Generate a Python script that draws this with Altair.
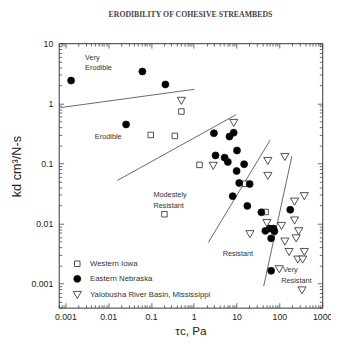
import altair as alt
import pandas as pd

# ---------------- data ----------------
series_names = ["Western Iowa", "Eastern Nebraska", "Yalobusha River Basin, Mississippi"]

iowa_tau = [0.513, 0.0987, 0.361, 1.36, 0.206, 15.8, 47.6]
iowa_kd = [0.731, 0.298, 0.287, 0.0947, 0.0143, 0.046, 0.0156]

nebraska_tau = [0.00136, 0.0629, 0.217, 0.0262, 2.95, 6.82, 8.55, 10.2, 3.22, 5.25,
                6.24, 15.0, 10.0, 11.5, 20.2, 8.11, 17.8, 37.9, 179, 46.9,
                58.7, 72.4, 76.4, 64.1, 64.1]
nebraska_kd = [2.39, 3.38, 2.06, 0.445, 0.318, 0.280, 0.325, 0.164, 0.136, 0.125,
               0.106, 0.0972, 0.0748, 0.0473, 0.0455, 0.0286, 0.0197, 0.0154, 0.0170, 0.00757,
               0.00826, 0.00826, 0.00746, 0.00568, 0.00164]

yalobusha_tau = [0.513, 8.55, 2.84, 53.7, 53.7, 134, 382, 226, 226, 50.9,
                 112, 20.5, 283, 246, 134, 168, 382, 269, 350, 99.2, 337]
yalobusha_kd = [1.10, 0.472, 0.0912, 0.110, 0.0621, 0.128, 0.0286, 0.0232, 0.01125, 0.0102,
                0.00913, 0.00667, 0.00746, 0.00568, 0.00502, 0.00337, 0.00337, 0.00252, 0.00252, 0.00174,
                0.000775]

# boundary lines between erodibility classes (two end points each)
boundary_id = ["a", "a", "b", "b", "c", "c", "d", "d"]
boundary_tau = [0.000765, 1.03, 0.0163, 9.70, 2.18, 60.9, 42.9, 196]
boundary_kd = [0.849, 1.71, 0.0521, 0.646, 0.00484, 0.245, 0.00091, 0.1326]

label_text = ["Very", "Erodible", "Erodible", "Modestely", "Resistant", "Resistant", "Very", "Resistant"]
label_tau = [0.00289, 0.00289, 0.00488, 0.114, 0.114, 4.73, 122, 110]
label_kd = [5.71, 3.93, 0.277, 0.0294, 0.0195, 0.00312, 0.00166, 0.0011]

x_major = [0.001, 0.01, 0.1, 1, 10, 100, 1000]
y_major = [0.001, 0.01, 0.1, 1, 10]
x_domain = [0.0007, 1000]
y_domain = [0.0004, 10]

# ---------------- tables ----------------
pts = pd.DataFrame({
    "tau": iowa_tau + nebraska_tau + yalobusha_tau,
    "kd": iowa_kd + nebraska_kd + yalobusha_kd,
    "series": [series_names[0]] * len(iowa_tau)
    + [series_names[1]] * len(nebraska_tau)
    + [series_names[2]] * len(yalobusha_tau),
})
lines = pd.DataFrame({"id": boundary_id, "tau": boundary_tau, "kd": boundary_kd})
labels = pd.DataFrame({"text": label_text, "tau": label_tau, "kd": label_kd})


def minors(domain):
    out = []
    for k in range(-5, 4):
        for m in range(2, 10):
            v = float(f"{m}e{k}")
            if domain[0] <= v <= domain[1]:
                out.append(v)
    return out


x_minor = minors(x_domain)
y_minor = minors(y_domain)

FONT = "Liberation Sans"
xs = alt.Scale(type="log", domain=x_domain, nice=False)
ys = alt.Scale(type="log", domain=y_domain, nice=False)

legend = alt.Legend(
    orient="none", legendX=14, legendY=222, title=None,
    labelFont=FONT, labelFontSize=8, labelColor="#333",
    symbolStrokeWidth=0.8,
    rowPadding=4.5, labelOffset=8, padding=0,
)


def ax(orient, values, size, labels_on=False, **kw):
    return alt.Axis(
        orient=orient, values=values, labels=labels_on, domain=False, grid=False,
        tickSize={"expr": str(-size)}, tickColor="#444", tickWidth=0.8,
        **kw,
    )


points = alt.Chart(pts).mark_point(strokeWidth=0.8, opacity=1, fillOpacity=1).encode(
    x=alt.X("tau:Q", scale=xs,
            axis=ax("bottom", x_major, 5, True, format="~g", labelFont=FONT, labelFontSize=9,
                    labelColor="#222", labelPadding=10, labelFlush=False, labelOverlap=False,
                    title="τc, Pa", titleFont=FONT, titleFontSize=12, titleFontWeight="normal",
                    titleColor="#222", titlePadding=5)),
    y=alt.Y("kd:Q", scale=ys,
            axis=ax("left", y_major, 5, True, format="~g", labelFont=FONT, labelFontSize=9,
                    labelColor="#222", labelPadding=11, labelFlush=False, labelOverlap=False,
                    title="kd cm³/N-s", titleFont=FONT, titleFontSize=13, titleFontWeight="normal",
                    titleColor="#222", titleX=-39, titleY=126, titleAlign="center",
                    titleAngle=270, titleBaseline="alphabetic")),
    shape=alt.Shape("series:N", scale=alt.Scale(domain=series_names, range=["square", "circle", "triangle-down"]), legend=legend),
    fill=alt.Fill("series:N", scale=alt.Scale(domain=series_names, range=["white", "black", "white"]), legend=legend),
    stroke=alt.Stroke("series:N", scale=alt.Scale(domain=series_names, range=["#222", "#111", "#222"]), legend=legend),
    size=alt.Size("series:N", scale=alt.Scale(domain=series_names, range=[32, 70, 48]), legend=legend),
)

minor_layer = alt.Chart(labels).mark_text(
    align="left", baseline="middle", font=FONT, fontSize=7.5, color="#333"
).encode(
    x=alt.X("tau:Q", scale=xs, axis=ax("bottom", x_minor, 3, title=None)),
    y=alt.Y("kd:Q", scale=ys, axis=ax("left", y_minor, 3, title=None)),
    text="text:N",
)

lines_a = alt.Chart(lines[lines["id"].isin(["a", "b"])]).mark_line(color="#555", strokeWidth=0.9).encode(
    x=alt.X("tau:Q", scale=xs, axis=ax("top", x_major, 5, title=None)),
    y=alt.Y("kd:Q", scale=ys, axis=ax("right", y_major, 5, title=None)),
    detail="id:N",
)
lines_b = alt.Chart(lines[lines["id"].isin(["c", "d"])]).mark_line(color="#555", strokeWidth=0.9).encode(
    x=alt.X("tau:Q", scale=xs, axis=ax("top", x_minor, 3, title=None)),
    y=alt.Y("kd:Q", scale=ys, axis=ax("right", y_minor, 3, title=None)),
    detail="id:N",
)

chart = alt.layer(lines_a, lines_b, minor_layer, points).resolve_axis(
    x="independent", y="independent"
).properties(
    width=270, height=271,
    autosize=alt.AutoSizeParams(type="none"),
    padding={"left": 52, "top": 32, "right": 9, "bottom": 26},
    title=alt.TitleParams("ERODIBILITY OF COHESIVE STREAMBEDS", font="Liberation Serif",
                          fontSize=8, fontWeight="bold", color="#444", anchor="middle", offset=21),
).configure_view(stroke="#333", strokeWidth=1)

chart.save("out.html", embed_options={"renderer": "svg", "actions": False})
